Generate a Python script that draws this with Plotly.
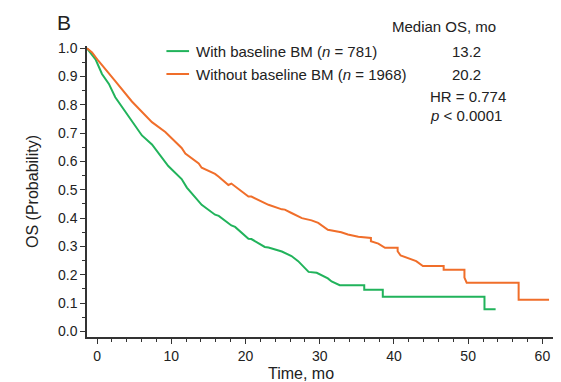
import plotly.graph_objects as go

# Kaplan-Meier curves (time in mo, survival probability)
green_t = [-1.35, -0.2, 0.67, 1.6, 2.46, 3.4, 4.7, 6.05, 7.4, 9.6, 11.4, 12.1, 13.0, 14.1, 15.9,
           16.4, 18.1, 18.6, 20.4, 20.8, 22.6, 23.1, 24.9, 26.2, 27.1, 27.8, 28.5, 29.6, 30.5,
           31.1, 31.6, 32.7, 36.0, 36.0, 38.5, 38.5, 52.2, 52.2, 53.7]
green_s = [1.0, 0.961, 0.909, 0.874, 0.827, 0.792, 0.74, 0.692, 0.66, 0.584, 0.538, 0.508, 0.48,
           0.447, 0.412, 0.408, 0.374, 0.369, 0.327, 0.326, 0.298, 0.296, 0.282, 0.266, 0.248,
           0.229, 0.210, 0.207, 0.196, 0.187, 0.176, 0.163, 0.163, 0.147, 0.147, 0.122, 0.122,
           0.078, 0.078]

orange_t = [-1.35, -0.67, 0.2, 1.57, 2.46, 4.7, 6.95, 7.4, 9.2, 11.4, 11.9, 13.7, 14.1, 15.9,
            16.4, 17.7, 18.1, 20.4, 20.8, 22.6, 23.1, 24.9, 25.3, 26.2, 27.6, 28.9, 29.8,
            31.1, 32.9, 33.8, 35.2, 36.9, 36.9, 37.9, 38.8, 40.5, 40.5, 40.9, 42.1, 43.0, 43.9,
            46.7, 46.7, 49.5, 49.5, 49.8, 56.8, 56.8, 60.9]
orange_s = [1.0, 0.985, 0.955, 0.914, 0.884, 0.812, 0.754, 0.739, 0.704, 0.648, 0.628, 0.593,
            0.578, 0.556, 0.546, 0.517, 0.522, 0.476, 0.476, 0.452, 0.447, 0.431, 0.430, 0.418,
            0.400, 0.392, 0.383, 0.359, 0.350, 0.342, 0.334, 0.330, 0.318, 0.310, 0.295, 0.295,
            0.283, 0.268, 0.257, 0.248, 0.231, 0.231, 0.218, 0.218, 0.19, 0.172, 0.172, 0.112,
            0.112]

series_names = ["With baseline BM (<i>n</i> = 781)", "Without baseline BM (<i>n</i> = 1968)"]
median_os = ["13.2", "20.2"]
median_header = "Median OS, mo"
hr_text = "HR = 0.774"
p_text = "<i>p</i> < 0.0001"
panel_label = "B"
x_title = "Time, mo"
y_title = "OS (Probability)"

x_ticks = [0, 10, 20, 30, 40, 50, 60]
y_ticks = [0.0, 0.1, 0.2, 0.3, 0.4, 0.5, 0.6, 0.7, 0.8, 0.9, 1.0]

X_RANGE = [-1.35, 61.7]
Y_RANGE = [-0.02, 1.008]

GREEN = "#21b35b"
ORANGE = "#f06e2a"
FONT = "Liberation Sans, Arial, sans-serif"
TXT = "#222"
AX = "#333"


def px(t):
    return (t - X_RANGE[0]) / (X_RANGE[1] - X_RANGE[0])


def py(s):
    return (s - Y_RANGE[0]) / (Y_RANGE[1] - Y_RANGE[0])


fig = go.Figure()
fig.add_trace(go.Scatter(x=green_t, y=green_s, mode="lines", name=series_names[0],
                         line=dict(color=GREEN, width=2), showlegend=False))
fig.add_trace(go.Scatter(x=orange_t, y=orange_s, mode="lines", name=series_names[1],
                         line=dict(color=ORANGE, width=2), showlegend=False))

fig.update_layout(
    width=561, height=382,
    margin=dict(l=79, r=14, t=38, b=53),
    paper_bgcolor="white", plot_bgcolor="white",
    font=dict(family=FONT, size=14, color=TXT),
    showlegend=False,
    xaxis=dict(range=X_RANGE, tickvals=x_ticks, ticks="outside", ticklen=5,
               tickwidth=1, tickcolor=AX, showline=True, linecolor=AX, linewidth=1.5,
               showgrid=False, zeroline=False, tickfont=dict(size=14), automargin=False,
               minor=dict(dtick=2, tick0=0, ticks="outside", ticklen=3, tickcolor=AX,
                          showgrid=False)),
    yaxis=dict(range=Y_RANGE, tickvals=y_ticks, tickformat=".1f", ticks="outside",
               ticklen=5, tickwidth=1, tickcolor=AX, showline=True, linecolor=AX,
               linewidth=1.5, showgrid=False, zeroline=False, tickfont=dict(size=14),
               automargin=False,
               minor=dict(dtick=0.05, tick0=0, ticks="outside", ticklen=3, tickcolor=AX,
                          showgrid=False),
               title=dict(text=y_title, font=dict(size=16))),
)

# legend drawn as line samples + labels
legend_rows = [(series_names[0], GREEN, 0.99, median_os[0]),
               (series_names[1], ORANGE, 0.909, median_os[1])]
for name, col, yy, med in legend_rows:
    fig.add_shape(type="line", xref="x", yref="y", x0=9.35, x1=12.4, y0=yy, y1=yy,
                  line=dict(color=col, width=2))
    fig.add_annotation(text=name, xref="x", yref="y", x=13.1, y=yy, xanchor="left",
                       yanchor="middle", showarrow=False, font=dict(size=15, color=TXT))
    fig.add_annotation(text=med, xref="x", yref="y", x=49.8, y=yy, xanchor="center",
                       yanchor="middle", showarrow=False, font=dict(size=15, color=TXT))

others = [(hr_text, 44.6, 0.830, "left", 15),
          (p_text, 44.6, 0.764, "left", 15)]
for txt, xx, yy, anc, sz in others:
    fig.add_annotation(text=txt, xref="x", yref="y", x=xx, y=yy, xanchor=anc,
                       yanchor="middle", showarrow=False, font=dict(size=sz, color=TXT))

# texts outside the plotting area (paper coordinates derived from the axis ranges)
outside = [(median_header, px(46.8), py(1.078), "center", 15),
           (panel_label, px(-5.6), 1.082, "left", 21),
           (x_title, px(27.5), -0.127, "center", 16)]
for txt, xx, yy, anc, sz in outside:
    fig.add_annotation(text=txt, xref="paper", yref="paper", x=xx, y=yy, xanchor=anc,
                       yanchor="middle", showarrow=False, font=dict(size=sz, color=TXT))

fig.write_html("out.html")
